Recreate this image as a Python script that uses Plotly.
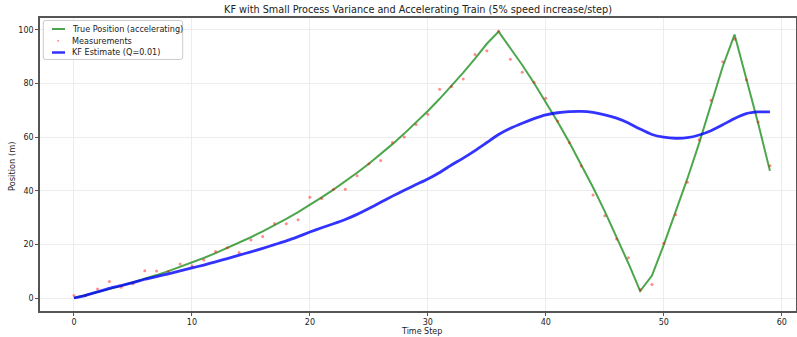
import plotly.graph_objects as go

time_steps = list(range(60))

true_position = [
    0.00, 1.05, 2.15, 3.31, 4.53, 5.80, 7.14, 8.55, 10.03, 11.58,
    13.21, 14.92, 16.71, 18.60, 20.58, 22.66, 24.84, 27.13, 29.54, 32.07,
    34.72, 37.51, 40.43, 43.50, 46.73, 50.11, 53.67, 57.40, 61.32, 65.44,
    69.76, 74.30, 79.06, 84.07, 89.32, 94.84, 99.37, 93.29, 86.91, 80.20,
    73.16, 65.77, 58.01, 49.86, 41.30, 32.31, 22.88, 12.97, 2.57, 8.35,
    19.82, 31.86, 44.50, 57.77, 71.71, 86.35, 98.28, 82.15, 65.21, 47.42,
]

measurements = [
    0.9, 0.9, 3.4, 6.2, 4.0, 5.3, 10.2, 10.1, 9.9, 12.7,
    12.0, 14.2, 17.3, 18.7, 17.0, 21.6, 22.9, 27.8, 27.7, 29.2,
    37.6, 37.1, 40.6, 40.6, 45.6, 50.1, 51.3, 58.0, 60.1, 64.7,
    68.5, 77.9, 78.9, 81.7, 90.8, 92.2, 99.5, 89.1, 84.2, 80.5,
    74.5, 66.0, 57.9, 49.2, 38.4, 30.7, 22.0, 15.0, 3.1, 5.0,
    20.4, 31.1, 43.2, 59.0, 73.8, 88.1, 96.5, 81.4, 65.7, 49.3,
]

kf_estimate = [
    0.0, 1.0, 2.3, 3.6, 4.6, 5.7, 7.0, 8.0, 9.0, 10.1,
    11.2, 12.3, 13.5, 14.7, 16.0, 17.2, 18.5, 19.9, 21.3, 22.9,
    24.6, 26.2, 27.7, 29.3, 31.2, 33.4, 35.7, 38.0, 40.2, 42.3,
    44.4, 46.8, 49.6, 52.2, 55.0, 58.0, 61.0, 63.3, 65.2, 66.9,
    68.3, 69.1, 69.5, 69.6, 69.2, 68.3, 67.1, 65.3, 63.0, 61.0,
    60.0, 59.6, 59.8, 60.8, 62.4, 64.6, 67.0, 68.8, 69.4, 69.4,
]

x_ticks = [0, 10, 20, 30, 40, 50, 60]
y_ticks = [0, 20, 40, 60, 80, 100]

legend_labels = ["True Position (accelerating)", "Measurements", "KF Estimate (Q=0.01)"]

FONT = "DejaVu Sans"
TXT = "#222222"
GREEN = "rgba(0,128,0,0.7)"
RED = "rgba(255,0,0,0.45)"
BLUE = "rgba(0,0,255,0.8)"

W, H = 797, 337
ML, MR, MT, MB = 40, 1, 18, 26
PW, PH = W - ML - MR, H - MT - MB


def px(x):
    return (x - ML) / PW


def py(y):
    return (H - MB - y) / PH


fig = go.Figure()
fig.add_trace(go.Scatter(
    x=time_steps, y=true_position, mode="lines",
    name=legend_labels[0], line=dict(color=GREEN, width=2),
))
fig.add_trace(go.Scatter(
    x=time_steps, y=measurements, mode="markers",
    name=legend_labels[1], marker=dict(color=RED, size=3, line=dict(width=0)),
))
fig.add_trace(go.Scatter(
    x=time_steps, y=kf_estimate, mode="lines",
    name=legend_labels[2],
    line=dict(color=BLUE, width=2.8, shape="spline", smoothing=0.6),
))

axis_common = dict(
    showline=True, mirror=True, linecolor="#555555", linewidth=1.5,
    ticks="outside", ticklen=3, tickwidth=1, tickcolor="#555555",
    showgrid=True, gridcolor="#ececec", gridwidth=1,
    zeroline=False, automargin=False,
    tickfont=dict(family=FONT, size=8, color=TXT),
)

# custom matplotlib-style legend (compact rows)
lx0, lx1, ly0, ly1, r = 43.3, 182.7, 20.5, 59.5, 2.5
rx, ry = r / PW, r / PH
X0, X1, Y0, Y1 = px(lx0), px(lx1), py(ly1), py(ly0)
legend_path = (
    f"M {X0+rx},{Y0} L {X1-rx},{Y0} Q {X1},{Y0} {X1},{Y0+ry} "
    f"L {X1},{Y1-ry} Q {X1},{Y1} {X1-rx},{Y1} "
    f"L {X0+rx},{Y1} Q {X0},{Y1} {X0},{Y1-ry} "
    f"L {X0},{Y0+ry} Q {X0},{Y0} {X0+rx},{Y0} Z"
)
shapes = [dict(type="path", path=legend_path, xref="paper", yref="paper",
               fillcolor="rgba(255,255,255,0.85)", line=dict(color="#cccccc", width=1))]
row_y = [29.0, 40.8, 52.5]
shapes.append(dict(type="line", xref="paper", yref="paper",
                   x0=px(52), x1=px(65), y0=py(row_y[0]), y1=py(row_y[0]),
                   line=dict(color=GREEN, width=2)))
shapes.append(dict(type="circle", xref="paper", yref="paper",
                   x0=px(57.2), x1=px(59.2), y0=py(row_y[1] + 1), y1=py(row_y[1] - 1),
                   fillcolor=RED, line=dict(width=0)))
shapes.append(dict(type="line", xref="paper", yref="paper",
                   x0=px(52), x1=px(65), y0=py(row_y[2]), y1=py(row_y[2]),
                   line=dict(color=BLUE, width=2.5)))

annotations = []
for lab, yy in zip(legend_labels, row_y):
    annotations.append(dict(text=lab, xref="paper", yref="paper", x=px(69.5), y=py(yy),
                            xanchor="left", yanchor="middle", showarrow=False,
                            font=dict(family=FONT, size=8.1, color=TXT)))
annotations.append(dict(text="Time Step", xref="paper", yref="paper",
                        x=px(421), y=py(337), xanchor="center", yanchor="bottom",
                        borderpad=0, showarrow=False,
                        font=dict(family=FONT, size=8, color=TXT)))
annotations.append(dict(text="Position (m)", xref="paper", yref="paper",
                        x=px(12), y=py(166), xanchor="center", yanchor="middle",
                        textangle=-90, showarrow=False,
                        font=dict(family=FONT, size=8.3, color=TXT)))

fig.update_layout(
    width=W, height=H,
    margin=dict(l=ML, r=MR, t=MT, b=MB),
    paper_bgcolor="white", plot_bgcolor="white",
    font=dict(family=FONT, size=9, color=TXT),
    title=dict(
        text="KF with Small Process Variance and Accelerating Train (5% speed increase/step)",
        x=0.5, xref="paper", xanchor="center",
        y=1 - 9.5 / H, yref="container", yanchor="middle",
        font=dict(family=FONT, size=9.7, color=TXT),
    ),
    xaxis=dict(axis_common, range=[-2.88, 61.21], tickvals=x_ticks, ticklabelstandoff=0),
    yaxis=dict(axis_common, range=[-4.85, 104.45], tickvals=y_ticks),
    shapes=shapes,
    annotations=annotations,
    showlegend=False,
)

fig.write_html(
    "out.html",
    config={"displayModeBar": False},
    post_script="document.body.style.margin='0';document.body.style.overflow='hidden';",
)
